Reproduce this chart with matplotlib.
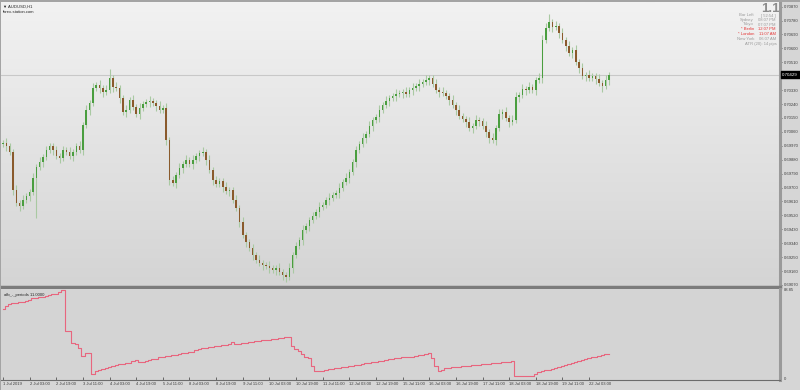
import matplotlib
matplotlib.use("Agg")
import matplotlib.pyplot as plt
import matplotlib.transforms as mtransforms
from matplotlib.colors import LinearSegmentedColormap
from matplotlib.patches import Rectangle
import numpy as np

plt.rcParams["font.family"] = ["Liberation Sans", "DejaVu Sans"]

# ---------------- data ----------------
closes = [
0.69988,0.69968,0.69930,0.69684,0.69600,0.69580,0.69619,0.69645,0.69671,0.69761,
0.69833,0.69865,0.69897,0.69942,0.69968,0.69942,0.69904,0.69891,0.69942,0.69930,
0.69904,0.69930,0.69968,0.69942,0.70104,0.70201,0.70247,0.70344,0.70363,0.70344,
0.70318,0.70331,0.70408,0.70350,0.70344,0.70279,0.70188,0.70201,0.70266,0.70221,
0.70175,0.70214,0.70240,0.70253,0.70260,0.70247,0.70227,0.70201,0.70214,0.70007,
0.69748,0.69729,0.69781,0.69826,0.69852,0.69878,0.69852,0.69878,0.69904,0.69923,
0.69930,0.69878,0.69813,0.69748,0.69723,0.69742,0.69703,0.69677,0.69684,0.69619,
0.69567,0.69477,0.69393,0.69347,0.69308,0.69263,0.69231,0.69211,0.69198,0.69192,
0.69179,0.69166,0.69179,0.69153,0.69134,0.69121,0.69179,0.69263,0.69321,0.69360,
0.69425,0.69451,0.69490,0.69515,0.69541,0.69574,0.69587,0.69619,0.69632,0.69651,
0.69664,0.69697,0.69735,0.69761,0.69800,0.69865,0.69942,0.69981,0.70020,0.70046,
0.70098,0.70137,0.70156,0.70201,0.70234,0.70260,0.70279,0.70292,0.70305,0.70311,
0.70318,0.70305,0.70331,0.70344,0.70357,0.70370,0.70382,0.70395,0.70408,0.70370,
0.70331,0.70318,0.70311,0.70292,0.70266,0.70234,0.70201,0.70162,0.70143,0.70124,
0.70085,0.70098,0.70137,0.70130,0.70098,0.70059,0.70020,0.70007,0.70085,0.70175,
0.70188,0.70150,0.70124,0.70137,0.70285,0.70298,0.70337,0.70331,0.70350,0.70331,
0.70395,0.70408,0.70654,0.70732,0.70771,0.70738,0.70745,0.70699,0.70654,0.70615,
0.70570,0.70590,0.70512,0.70473,0.70421,0.70428,0.70408,0.70421,0.70402,0.70376,
0.70357,0.70395,0.70429]
first_open = 0.69980

# wick lengths beyond the body, in pips (0.0001)
wick_up = [
2,3,2,2,3,2,3,2,2,3, 2,3,2,3,2,2,3,2,3,2, 3,2,2,3,2,3,2,3,2,3, 2,3,6,2,3,2,2,3,2,3,
2,3,2,2,3,2,2,3,2,3, 2,3,2,3,2,3,2,3,2,2, 3,2,3,2,3,2,2,3,2,2, 3,2,3,2,2,3,2,3,2,2,
3,2,2,3,2,2,3,2,3,2, 3,2,2,3,2,3,2,2,3,2, 2,3,2,3,2,2,3,2,3,2, 3,2,2,3,2,3,2,2,3,2,
2,3,2,3,2,3,2,3,2,2, 3,2,3,2,2,3,2,3,2,2, 3,2,3,2,2,3,2,3,2,3, 2,3,2,3,3,2,3,2,3,2,
2,3,3,3,5,2,3,2,3,2, 3,2,3,2,3,2,3,2,2,3, 2,3,2]
wick_dn = [
2,3,2,3,2,3,2,2,3,2, 26,2,3,2,2,3,2,3,2,2, 2,3,2,2,3,2,3,2,2,3, 3,2,2,3,2,3,2,3,2,2,
2,3,2,2,3,2,3,2,2,3, 3,2,3,2,3,2,2,3,2,3, 2,3,2,3,2,2,3,2,3,2, 2,3,2,3,2,3,2,2,3,2,
3,2,3,2,3,3,2,3,2,2, 3,2,3,2,2,3,2,2,3,2, 2,3,2,2,3,2,3,2,2,3, 2,3,2,3,2,2,3,2,3,2,
3,2,2,3,2,3,2,2,3,2, 2,3,2,2,3,2,3,2,2,3, 2,3,2,3,2,3,3,2,3,2, 3,2,3,2,2,3,2,3,2,2,
3,2,3,2,2,3,2,3,2,3, 2,3,2,3,2,3,2,2,3,2, 4,2,3]

indicator = [
70,73,75,76,76,77,77,78,79,81, 81,82,82,83,84,85,85,87,88.85,48,
48,36,35,31,23,26,26,4,7,8, 9,10,11,12,13,14,14,15,15,17,
18,16,16,17,18,19,19,21,22,23, 23,24,24,25,26,26,27,27,29,30,
31,31,32,32,33,33,34,34,35,37, 35,35,36,36,37,37,38,38,39,39,
39,40,40,41,41,42,42,33,30,28, 25,22,20,12,7,7,7,8,9,9,
10,10,11,11,12,12,13,13,14,15, 15,16,16,17,17,18,19,19,20,20,
21,21,22,22,23,24,24,25,26,20, 12,7,8,10,10,11,11,11,12,12,
12,13,13,13,14,14,14,15,15,15, 16,16,16,17,2,2,2,2,2,2,
4,6,7,8,8,9,10,11,12,13, 14,15,16,17,18,19,20,21,22,23,
24,25,25]

time_labels = ["1 Jul 2019", "2 Jul 03:00", "2 Jul 19:00", "3 Jul 11:00", "4 Jul 03:00",
               "4 Jul 19:00", "5 Jul 11:00", "8 Jul 03:00", "8 Jul 19:00", "9 Jul 11:00",
               "10 Jul 03:00", "10 Jul 19:00", "11 Jul 11:00", "12 Jul 03:00", "12 Jul 19:00",
               "15 Jul 11:00", "16 Jul 03:00", "16 Jul 19:00", "17 Jul 11:00", "18 Jul 03:00",
               "18 Jul 19:00", "19 Jul 11:00", "22 Jul 03:00"]
bars_per_label = 8

price_ticks = [0.69070, 0.69160, 0.69250, 0.69340, 0.69430, 0.69520, 0.69610, 0.69700,
               0.69790, 0.69880, 0.69970, 0.70060, 0.70150, 0.70240, 0.70330, 0.70420,
               0.70510, 0.70600, 0.70690, 0.70780, 0.70870]
last_price = 0.70429

info_rows = [("Bar Left", "[ 52:54 ]", False), ("Sydney", "08:07 PM", False),
             ("Tokyo", "07:07 PM", False), ("* Berlin", "12:07 PM", True),
             ("* London", "11:07 AM", True), ("New York", "06:07 AM", False)]
atr_text = "ATR (20): 14 pips"

# ---------------- figure ----------------
W, H = 800, 390
FS = 3.0
fig = plt.figure(figsize=(W / 100, H / 100), dpi=100, facecolor="#d6d6d6")
# top and left frame strips
fig.patches.append(Rectangle((0, 1 - 2 / H), 1, 2 / H, transform=fig.transFigure,
                             fc="#a4a4a4", ec="none", zorder=0))
fig.patches.append(Rectangle((0, 0), 1 / W, 1, transform=fig.transFigure,
                             fc="#a4a4a4", ec="none", zorder=0))

ax = fig.add_axes([1 / W, 1 - 287 / H, 779 / W, 285 / H])
ax2 = fig.add_axes([1 / W, 1 - 380 / H, 779 / W, 91 / H], sharex=ax)

n = len(closes)
xs = np.arange(n)
opens = [first_open] + closes[:-1]
highs = [max(o, c) + u * 0.0001 for o, c, u in zip(opens, closes, wick_up)]
lows = [min(o, c) - d * 0.0001 for o, c, d in zip(opens, closes, wick_dn)]

xmin = -0.6
xmax = xmin + 779 / 3.33
ax.set_xlim(xmin, xmax)
ax.set_ylim(0.69057, 0.70900)

# gradient background (light top, darker bottom)
grad = np.linspace(0, 1, 256).reshape(-1, 1)
cm = LinearSegmentedColormap.from_list("bg", ["#f2f2f2", "#d4d4d4"])
ax.imshow(grad, aspect="auto", cmap=cm, extent=[0, 1, 0, 1], origin="upper",
          transform=ax.transAxes, zorder=0, interpolation="bilinear")

# last price line
ax.axhline(last_price, color="#c8c8c8", lw=0.8, zorder=1)

# candles
ax.vlines(xs, lows, highs, color="#a9c9a2", lw=0.8, zorder=2)
bull = [c >= o for o, c in zip(opens, closes)]
body_bottom = [min(o, c) for o, c in zip(opens, closes)]
body_h = [max(abs(c - o), 0.000025) for o, c in zip(opens, closes)]
cols = ["#4a9e3f" if b else "#8a5a2c" for b in bull]
ax.bar(xs, body_h, bottom=body_bottom, width=0.45, color=cols, linewidth=0, zorder=3)

# axes styling main
for s in ["top", "left"]:
    ax.spines[s].set_visible(False)
ax.spines["right"].set_color("#9a9a9a")
ax.spines["right"].set_linewidth(2.2)
ax.spines["bottom"].set_color("#7c7c7c")
ax.spines["bottom"].set_linewidth(2.5)
ax.yaxis.tick_right()
ax.set_yticks(price_ticks)
# the tick label hidden under the current-price box is left blank
ax.set_yticklabels(["" if abs(p - last_price) < 0.0002 else "%.5f" % p for p in price_ticks])
ax.tick_params(axis="y", length=1.5, width=0.6, color="#555555", labelsize=FS,
               labelcolor="#3c3c3c", pad=1.0)
ax.tick_params(axis="x", bottom=False, labelbottom=False)

# price box
tr = mtransforms.blended_transform_factory(ax.transAxes, ax.transData)
ax.text(1.003, last_price, "0.70429", transform=tr, fontsize=FS + 0.2, color="white",
        va="center", ha="left", zorder=20, clip_on=False,
        bbox=dict(boxstyle="square,pad=0.35", fc="black", ec="black"))

# top-left labels
ax.text(0.003, 0.99, "\u25bc AUDUSD,H1", transform=ax.transAxes, fontsize=FS,
        color="#222222", va="top", ha="left")
ax.text(0.003, 0.972, "forex-station.com", transform=ax.transAxes, fontsize=FS,
        color="#222222", va="top", ha="left")

# info panel
fig.text(780 / W, 1 - 2.5 / H, "1.1", fontsize=9.5, color="#8c8c8c", ha="right", va="top",
         fontweight="bold")
row_y = [15.5, 20, 24.5, 29.5, 34, 38.5]
for (lab, val, red), yy in zip(info_rows, row_y):
    c = "#e53535" if red else "#9a9a9a"
    fig.text(754 / W, 1 - yy / H, lab, fontsize=FS, color=c, ha="right", va="center")
    fig.text(776 / W, 1 - yy / H, val, fontsize=FS, color=c, ha="right", va="center")
fig.text(777 / W, 1 - 43.5 / H, atr_text, fontsize=FS, color="#9a9a9a", ha="right", va="center")

# indicator
ax2.set_facecolor("#d4d4d4")
ax2.plot(xs, indicator, color="#e8667e", lw=0.8, drawstyle="steps-mid")
ax2.set_ylim(-1.6, 89.8)
for s in ["top", "left"]:
    ax2.spines[s].set_visible(False)
ax2.spines["right"].set_color("#9a9a9a")
ax2.spines["right"].set_linewidth(2.2)
ax2.spines["bottom"].set_color("#6c6c6c")
ax2.spines["bottom"].set_linewidth(0.8)
ax2.yaxis.tick_right()
ax2.set_yticks([0, 88.85])
ax2.set_yticklabels(["0", "88.85"])
ax2.tick_params(axis="y", length=0, labelsize=FS, labelcolor="#3c3c3c", pad=2.5)
ax2.text(0.004, 0.955, "afb_-_periods 11.0000", transform=ax2.transAxes, fontsize=FS,
         color="#222222", va="top", ha="left")

tick_pos = [i * bars_per_label for i in range(len(time_labels))]
ax2.set_xticks(tick_pos)
ax2.set_xticklabels(time_labels)
ax2.tick_params(axis="x", direction="in", length=2.5, width=0.6, color="#555555",
                labelsize=FS, labelcolor="#3c3c3c", pad=1.5)
for lab in ax2.get_xticklabels():
    lab.set_horizontalalignment("left")

fig.savefig("out.png", dpi=100, facecolor=fig.get_facecolor())
